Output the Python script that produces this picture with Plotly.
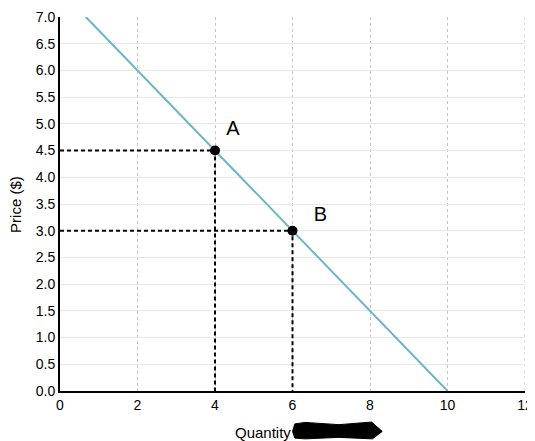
import plotly.graph_objects as go

demand_q = [0.667, 10]
demand_p = [7.0, 0.0]
point_names = ["A", "B"]
point_q = [4, 6]
point_p = [4.5, 3.0]
label_q = [4.46, 6.72]
label_p = [4.88, 3.27]
x_max = 12
y_max = 7

FONT = "Liberation Sans, Arial, Helvetica"

fig = go.Figure()
fig.add_trace(go.Scatter(x=demand_q, y=demand_p, mode="lines",
                         line=dict(color="#6db5c8", width=2), showlegend=False))
for q, p in zip(point_q, point_p):
    fig.add_trace(go.Scatter(x=[0, q, q], y=[p, p, 0], mode="lines",
                             line=dict(color="black", width=2, dash="4px,3px"), showlegend=False))
fig.add_trace(go.Scatter(x=point_q, y=point_p, mode="markers",
                         marker=dict(color="black", size=10), showlegend=False))
fig.add_trace(go.Scatter(x=label_q, y=label_p, mode="text", text=point_names,
                         textfont=dict(size=20, color="black", family=FONT),
                         showlegend=False))

fig.update_layout(
    width=527, height=433,
    margin=dict(l=52, r=10, t=9, b=50, autoexpand=False),
    paper_bgcolor="white", plot_bgcolor="white",
    font=dict(family=FONT, size=14, color="black"),
    xaxis=dict(range=[0, x_max], dtick=2, showgrid=True, gridcolor="#c4c4c4", griddash="dot",
               gridwidth=1, showline=True, linecolor="black", linewidth=2, zeroline=False,
               ticks="", tickfont=dict(size=14), automargin=False, ticklabeloverflow="allow"),
    yaxis=dict(range=[0, y_max], dtick=0.5, tickformat=".1f", showgrid=True, gridcolor="#e8e8e8",
               gridwidth=1, showline=True, linecolor="black", linewidth=2, zeroline=False,
               ticks="", tickfont=dict(size=14), automargin=False, ticklabeloverflow="allow"),
)
# gridline at the right edge (plotly drops edge gridlines)
fig.add_shape(type="line", xref="x", yref="y", x0=x_max, x1=x_max, y0=0, y1=y_max,
              line=dict(color="#c4c4c4", width=1, dash="dot"), layer="below")
fig.add_annotation(text="Price ($)", xref="paper", yref="paper", x=-0.097, y=0.5,
                   xanchor="center", yanchor="middle", textangle=-90, showarrow=False,
                   font=dict(size=15, color="black"))
fig.add_annotation(text="Quantity", xref="paper", yref="paper", x=0.372, y=-0.11,
                   xanchor="left", yanchor="middle", showarrow=False,
                   font=dict(size=15, color="black"))
# redaction scribble
fig.add_shape(type="path", xref="paper", yref="paper",
              path="M 0.505 -0.088 L 0.527 -0.084 L 0.6 -0.090 L 0.67 -0.083 L 0.693 -0.108 "
                   "L 0.672 -0.128 L 0.6 -0.124 L 0.527 -0.128 L 0.505 -0.126 L 0.5 -0.108 Z",
              fillcolor="black", line=dict(color="black", width=1))
fig.write_html("out.html")
